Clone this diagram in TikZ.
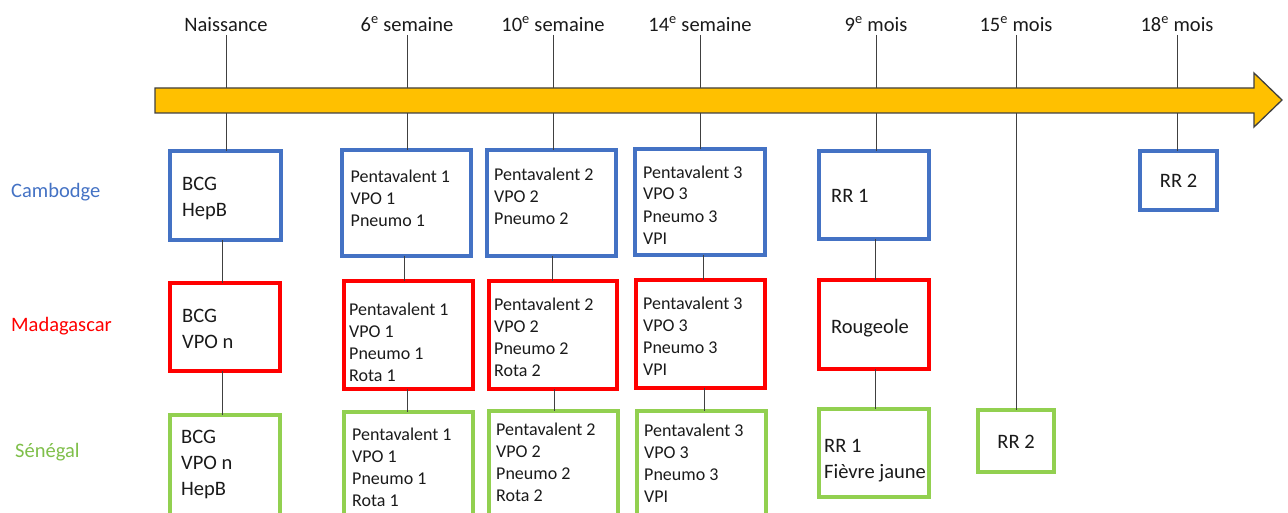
\documentclass[tikz,border=0pt]{standalone}
\usepackage{fontspec}
\setmainfont{Carlito}
\definecolor{cb}{HTML}{4472C4}
\definecolor{cr}{HTML}{FF0000}
\definecolor{cg}{HTML}{92D050}
\definecolor{cgt}{HTML}{7FBF4A}
\definecolor{arrowfill}{HTML}{FFC000}
\definecolor{lnc}{HTML}{404040}
\definecolor{txc}{HTML}{1A1A1A}
\tikzset{
  bx/.style={draw=#1, line width=4pt, inner sep=0pt, outer sep=0pt, fill=none},
  toplab/.style={font=\fontsize{20.5}{24}\selectfont, text=txc, inner xsep=0pt, inner ysep=3.5pt, text depth=0pt, anchor=south},
  cty/.style={font=\fontsize{20.5}{24}\selectfont, inner sep=0pt, anchor=base west},
  big/.style={font=\fontsize{20.5}{26}\selectfont, text=txc, align=left, inner sep=0pt, anchor=base west},
  small/.style={font=\fontsize{18}{22}\selectfont, text=txc, align=left, inner sep=0pt, anchor=base west},
  conn/.style={draw=lnc, line width=1pt},
}
\begin{document}
\begin{tikzpicture}[x=1pt,y=-1pt]
\clip (0,0) rectangle (1288,513);
\useasboundingbox (0,0) rectangle (1288,513);
% top labels
\node[toplab] (t0) at (226,35) {Naissance};
\node[toplab] (t1) at (407,35) {6\textsuperscript{e} semaine};
\node[toplab] (t2) at (553,35) {10\textsuperscript{e} semaine};
\node[toplab] (t3) at (700,35) {14\textsuperscript{e} semaine};
\node[toplab] (t4) at (876,35) {9\textsuperscript{e} mois};
\node[toplab] (t5) at (1016,35) {15\textsuperscript{e} mois};
\node[toplab] (t6) at (1177,35) {18\textsuperscript{e} mois};
% country labels
\node[cty, text=cb] (lc) at (11,198) {Cambodge};
\node[cty, text=cr] (lm) at (11,331) {Madagascar};
\node[cty, text=cgt] (ls) at (15,457) {Sénégal};
% Cambodge boxes
\node[bx=cb, minimum width=111pt, minimum height=89pt] (c1) at (225.5,195.5) {};
\node[bx=cb, minimum width=129pt, minimum height=106pt] (c2) at (406.5,203) {};
\node[bx=cb, minimum width=129pt, minimum height=106pt] (c3) at (551.5,203) {};
\node[bx=cb, minimum width=130pt, minimum height=106pt] (c4) at (700,202) {};
\node[bx=cb, minimum width=110pt, minimum height=88pt] (c5) at (874,195) {};
\node[bx=cb, minimum width=77pt, minimum height=59pt] (c6) at (1178.5,180.5) {};
% Madagascar boxes
\node[bx=cr, minimum width=110pt, minimum height=88pt] (m1) at (225,327) {};
\node[bx=cr, minimum width=129pt, minimum height=108pt] (m2) at (408.5,335) {};
\node[bx=cr, minimum width=128pt, minimum height=108pt] (m3) at (553,335) {};
\node[bx=cr, minimum width=129pt, minimum height=108pt] (m4) at (700.5,334) {};
\node[bx=cr, minimum width=110pt, minimum height=89pt] (m5) at (874,324.5) {};
% Senegal boxes
\node[bx=cg, minimum width=110pt, minimum height=105pt] (s1) at (225,467.5) {};
\node[bx=cg, minimum width=129pt, minimum height=108pt] (s2) at (408.5,466) {};
\node[bx=cg, minimum width=129pt, minimum height=109pt] (s3) at (553.5,465.5) {};
\node[bx=cg, minimum width=129pt, minimum height=109pt] (s4) at (701.5,465.5) {};
\node[bx=cg, minimum width=110pt, minimum height=88pt] (s5) at (874,453) {};
\node[bx=cg, minimum width=76pt, minimum height=62pt] (s6) at (1016,441) {};
% timeline connectors (behind arrow)
\draw[conn] (t0.south) -- (t0.south |- c1.north);
\draw[conn] (t1.south) -- (t1.south |- c2.north);
\draw[conn] (t2.south) -- (t2.south |- c3.north);
\draw[conn] (t3.south) -- (t3.south |- c4.north);
\draw[conn] (t4.south) -- (t4.south |- c5.north);
\draw[conn] (t5.south) -- (t5.south |- s6.north);
\draw[conn] (t6.south) -- (t6.south |- c6.north);
% arrow
\fill[arrowfill, draw=lnc, line width=1.3pt, line join=miter]
  (155,88) -- (1254,88) -- (1254,73) -- (1282,100) -- (1254,127) -- (1254,113) -- (155,113) -- cycle;
% row connectors
\draw[conn] ([xshift=-3pt]c1.south) -- ([xshift=-3pt]c1.south |- m1.north);
\draw[conn] ([xshift=-3pt]m1.south) -- ([xshift=-3pt]m1.south |- s1.north);
\draw[conn] ([xshift=-2pt]c2.south) -- ([xshift=-2pt]c2.south |- m2.north);
\draw[conn] ([xshift=-1pt]m2.south) -- ([xshift=-1pt]m2.south |- s2.north);
\draw[conn] ([xshift=1pt]c3.south) -- ([xshift=1pt]c3.south |- m3.north);
\draw[conn] ([xshift=1pt]m3.south) -- ([xshift=1pt]m3.south |- s3.north);
\draw[conn] ([xshift=3pt]c4.south) -- ([xshift=3pt]c4.south |- m4.north);
\draw[conn] ([xshift=4pt]m4.south) -- ([xshift=4pt]m4.south |- s4.north);
\draw[conn] ([xshift=1pt]c5.south) -- ([xshift=1pt]c5.south |- m5.north);
\draw[conn] ([xshift=1pt]m5.south) -- ([xshift=1pt]m5.south |- s5.north);
% box texts (base = baseline of last line)
\node[big] (c1t) at (182,217) {BCG\\HepB};
\node[small] (c2t) at (350.5,226.5) {Pentavalent 1\\VPO 1\\Pneumo 1};
\node[small] (c3t) at (494,224.5) {Pentavalent 2\\VPO 2\\Pneumo 2};
\node[small] (c4t) at (643,244) {Pentavalent 3\\VPO 3\\Pneumo 3\\VPI};
\node[big] (c5t) at (831,203) {RR 1};
\node[big, anchor=base] (c6t) at (1178.5,188) {RR 2};
\node[big] (m1t) at (182,348.5) {BCG\\VPO n};
\node[small] (m2t) at (349,381) {Pentavalent 1\\VPO 1\\Pneumo 1\\Rota 1};
\node[small] (m3t) at (494,376.5) {Pentavalent 2\\VPO 2\\Pneumo 2\\Rota 2};
\node[small] (m4t) at (643,375) {Pentavalent 3\\VPO 3\\Pneumo 3\\VPI};
\node[big] (m5t) at (831,333) {Rougeole};
\node[big] (s1t) at (181,495) {BCG\\VPO n\\HepB};
\node[small] (s2t) at (352,506) {Pentavalent 1\\VPO 1\\Pneumo 1\\Rota 1};
\node[small] (s3t) at (496,501.5) {Pentavalent 2\\VPO 2\\Pneumo 2\\Rota 2};
\node[small] (s4t) at (644,502.5) {Pentavalent 3\\VPO 3\\Pneumo 3\\VPI};
\node[big] (s5t) at (824,478) {RR 1\\Fièvre jaune};
\node[big, anchor=base] (s6t) at (1016,448) {RR 2};
\end{tikzpicture}
\end{document}
